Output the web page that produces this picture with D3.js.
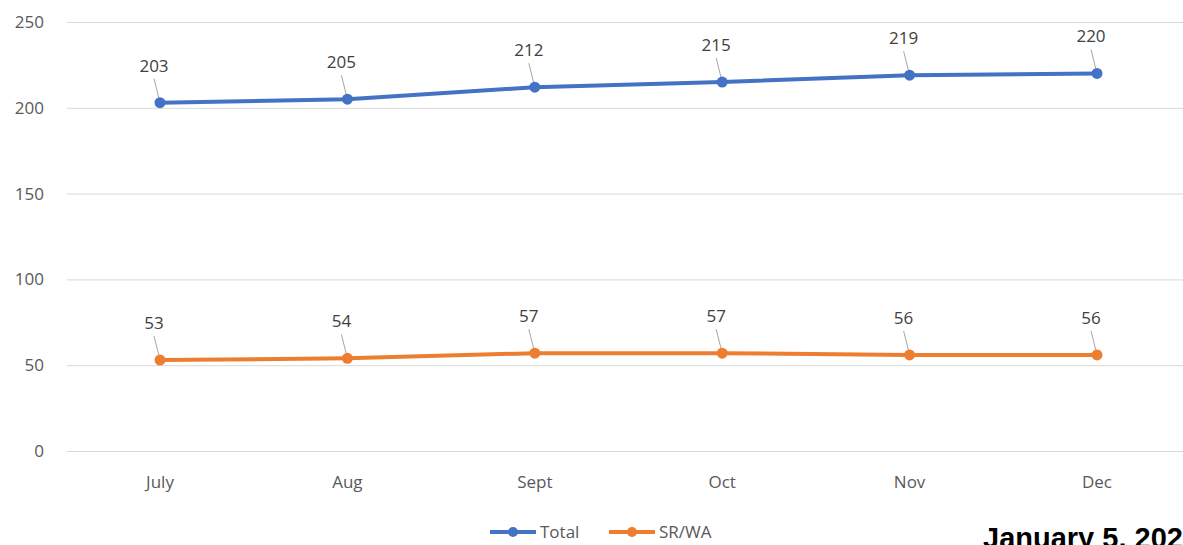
<!DOCTYPE html>
<html>
<head>
<meta charset="utf-8">
<script src="https://cdn.jsdelivr.net/npm/d3@7"></script>
<style>
  html, body { margin: 0; padding: 0; background: #fff; overflow: hidden; }
  svg { display: block; font-family: "Open Sans", "Noto Sans", sans-serif; }
</style>
</head>
<body>
<svg id="chart" width="1183" height="545"></svg>
<script>
const months = ["July", "Aug", "Sept", "Oct", "Nov", "Dec"];
const totalValues = [203, 205, 212, 215, 219, 220];
const srwaValues = [53, 54, 57, 57, 56, 56];
const yTicks = [0, 50, 100, 150, 200, 250];

const series = [
  { name: "Total", values: totalValues, color: "#4472C4" },
  { name: "SR/WA", values: srwaValues, color: "#ED7D31" },
];

const svg = d3.select("#chart");
const width = 1183;
const labelDx = -6;
const labelDy = -37;

const x = d3.scalePoint().domain(months).range([160, 1097]);
const y = d3.scaleLinear().domain([0, 250]).range([451, 22]);

// gridlines
svg.append("g")
  .selectAll("line")
  .data(yTicks)
  .join("line")
  .attr("x1", 67)
  .attr("x2", width)
  .attr("y1", (d) => y(d) + 0.5)
  .attr("y2", (d) => y(d) + 0.5)
  .attr("stroke", "#d9d9d9")
  .attr("stroke-width", 1);

// y axis labels
svg.append("g")
  .selectAll("text")
  .data(yTicks)
  .join("text")
  .attr("x", 44)
  .attr("y", (d) => y(d))
  .attr("dy", "0.35em")
  .attr("text-anchor", "end")
  .attr("font-size", 17)
  .attr("fill", "#595959")
  .text((d) => d);

// x axis labels
svg.append("g")
  .selectAll("text")
  .data(months)
  .join("text")
  .attr("x", (d) => x(d))
  .attr("y", 482)
  .attr("dy", "0.35em")
  .attr("text-anchor", "middle")
  .attr("font-size", 17)
  .attr("fill", "#595959")
  .text((d) => d);

const line = d3.line()
  .x((d, i) => x(months[i]))
  .y((d) => y(d));

series.forEach((s) => {
  const g = svg.append("g");

  // leader lines
  g.selectAll("line.leader")
    .data(s.values)
    .join("line")
    .attr("class", "leader")
    .attr("x1", (d, i) => x(months[i]) + labelDx)
    .attr("y1", (d) => y(d) + labelDy + 13)
    .attr("x2", (d, i) => x(months[i]))
    .attr("y2", (d) => y(d))
    .attr("stroke", "#a6a6a6")
    .attr("stroke-width", 1);

  g.append("path")
    .datum(s.values)
    .attr("fill", "none")
    .attr("stroke", s.color)
    .attr("stroke-width", 4)
    .attr("stroke-linejoin", "round")
    .attr("d", line);

  g.selectAll("circle")
    .data(s.values)
    .join("circle")
    .attr("cx", (d, i) => x(months[i]))
    .attr("cy", (d) => y(d))
    .attr("r", 5.5)
    .attr("fill", s.color);

  g.selectAll("text")
    .data(s.values)
    .join("text")
    .attr("x", (d, i) => x(months[i]) + labelDx)
    .attr("y", (d) => y(d) + labelDy)
    .attr("dy", "0.35em")
    .attr("text-anchor", "middle")
    .attr("font-size", 17)
    .attr("fill", "#404040")
    .text((d) => d);
});

// legend
const legend = svg.append("g");
const legendItems = [
  { name: "Total", color: "#4472C4", x: 490 },
  { name: "SR/WA", color: "#ED7D31", x: 609 },
];
legendItems.forEach((item) => {
  legend.append("line")
    .attr("x1", item.x)
    .attr("x2", item.x + 46)
    .attr("y1", 532)
    .attr("y2", 532)
    .attr("stroke", item.color)
    .attr("stroke-width", 4);
  legend.append("circle")
    .attr("cx", item.x + 23)
    .attr("cy", 532)
    .attr("r", 5)
    .attr("fill", item.color);
  legend.append("text")
    .attr("x", item.x + 50)
    .attr("y", 532)
    .attr("dy", "0.35em")
    .attr("font-size", 17)
    .attr("fill", "#595959")
    .text(item.name);
});

// date stamp, cut off by the right and bottom edges as in the source
svg.append("text")
  .attr("x", 983)
  .attr("y", 548)
  .attr("font-family", "Liberation Sans, Arial, sans-serif")
  .attr("font-weight", "bold")
  .attr("font-size", 29)
  .attr("fill", "#000")
  .text("January 5, 2022");
</script>
</body>
</html>
